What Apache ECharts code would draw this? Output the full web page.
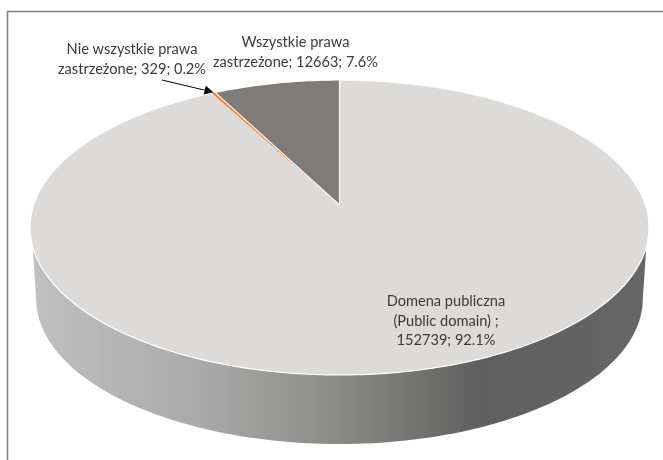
<!DOCTYPE html>
<html><head><meta charset="utf-8">
<style>html,body{margin:0;padding:0;background:#fff}#c{width:663px;height:460px}</style>
<script src="https://cdn.jsdelivr.net/npm/echarts@6/dist/echarts.min.js"></script>
</head><body><div id="c"></div>
<script>
const categories = ['Domena publiczna (Public domain)', 'Nie wszystkie prawa zastrzeżone', 'Wszystkie prawa zastrzeżone'];
const values = [152739, 329, 12663];
const percents = ['92.1%', '0.2%', '7.6%'];
const sliceColors = ['#dcdbd9', '#ed7d31', '#7f7b79'];

const total = values.reduce((a, b) => a + b, 0);
const cx = 339.5;
// perspective disc: u,v on unit circle => screen
const persp = {k: -0.1525, a: 112.8, b: 205, c: 305.9};
function proj(u, v, dy, scale) {
  const d = 1 + persp.k * v;
  return [cx + persp.c * scale * u / d, (persp.a * scale * v + persp.b) / d + dy];
}
const edge = (t, dy, scale) => proj(Math.sin(t), -Math.cos(t), dy || 0, scale || 1);
const cum = [0];
values.forEach(v => cum.push(cum[cum.length - 1] + v));
const ang = i => cum[i] / total * Math.PI * 2;

const chart = echarts.init(document.getElementById('c'), null, {renderer: 'canvas'});
const wallDy = 71.7, wallScale = 0.98;

function renderWall(params, api) {
  const pts = [];
  const n = 120;
  const b0 = 1.724, b1 = 2 * Math.PI - 1.724;
  const t0 = 1.854, t1 = 2 * Math.PI - 1.854;
  for (let i = 0; i <= n; i++) pts.push(edge(b0 + (b1 - b0) * i / n, wallDy, wallScale));
  for (let i = n; i >= 0; i--) pts.push(edge(t0 + (t1 - t0) * i / n, 0, 1));
  return {type: 'polygon', shape: {points: pts}, style: {
    fill: new echarts.graphic.LinearGradient(0, 0, 1, 0, [
      {offset: 0, color: '#c0c0c0'}, {offset: 0.27, color: '#a9aaa9'},
      {offset: 0.5, color: '#8a8a88'}, {offset: 0.73, color: '#5f5f5f'}, {offset: 1, color: '#666666'}
    ])
  }};
}
function renderSlice(params, api) {
  const i = params.dataIndex;
  const s = ang(i), e = ang(i + 1);
  const n = Math.max(2, Math.ceil((e - s) * 60));
  const pts = [proj(0, 0, 0, 1)];
  for (let j = 0; j <= n; j++) pts.push(edge(s + (e - s) * j / n));
  return {type: 'polygon', shape: {points: pts},
    style: {fill: sliceColors[i], stroke: i === 1 ? '#ed7d31' : '#ffffff', lineWidth: i === 1 ? 0.6 : 1.2, lineJoin: 'miter'}};
}
function renderLeader() {
  const tip = edge((ang(1) + ang(2)) / 2, -0.5);
  const start = [162, 80];
  const dx = tip[0] - start[0], dy = tip[1] - start[1], L = Math.hypot(dx, dy);
  const ux = dx / L, uy = dy / L, hl = 9, hw = 4.5;
  const bx = tip[0] - ux * hl, by = tip[1] - uy * hl;
  return {type: 'group', children: [
    {type: 'line', shape: {x1: start[0], y1: start[1], x2: bx, y2: by}, style: {stroke: '#000', lineWidth: 1}},
    {type: 'polygon', shape: {points: [tip, [bx - uy * hw, by + ux * hw], [bx + uy * hw, by - ux * hw]]}, style: {fill: '#000'}}
  ]};
}
const label = (x, y, lines) => ({type: 'text', x, y, silent: true, style: {
  text: lines.join('\n'), font: '14.6px Lato', fill: '#3a3a3a', align: 'center', verticalAlign: 'middle', lineHeight: 19.5
}});
const row = i => String(values[i]) + '; ' + percents[i];

chart.setOption({
  animation: false,
  backgroundColor: '#ffffff',
  graphic: [
    {type: 'line', shape: {x1: 7, y1: 11.5, x2: 663, y2: 11.5}, style: {stroke: '#7f7f7f', lineWidth: 1.6}, z: 1},
    {type: 'line', shape: {x1: 7.5, y1: 11, x2: 7.5, y2: 460}, style: {stroke: '#7f7f7f', lineWidth: 1.6}, z: 1},
    Object.assign(label(132, 59.5, ['Nie wszystkie prawa', 'zastrzeżone; ' + row(1)]), {z: 20}),
    Object.assign(label(295.5, 52.5, ['Wszystkie prawa', 'zastrzeżone; ' + row(2)]), {z: 20}),
    Object.assign(label(446, 321, ['Domena publiczna', '(Public domain) ;', row(0)]), {z: 20})
  ],
  series: [
    {type: 'custom', coordinateSystem: 'none', renderItem: renderWall, data: [0], silent: true, z: 2},
    {type: 'custom', coordinateSystem: 'none', renderItem: renderSlice, data: values, silent: true, z: 3},
    {type: 'custom', coordinateSystem: 'none', renderItem: renderLeader, data: [0], silent: true, z: 4}
  ]
});
</script></body></html>
